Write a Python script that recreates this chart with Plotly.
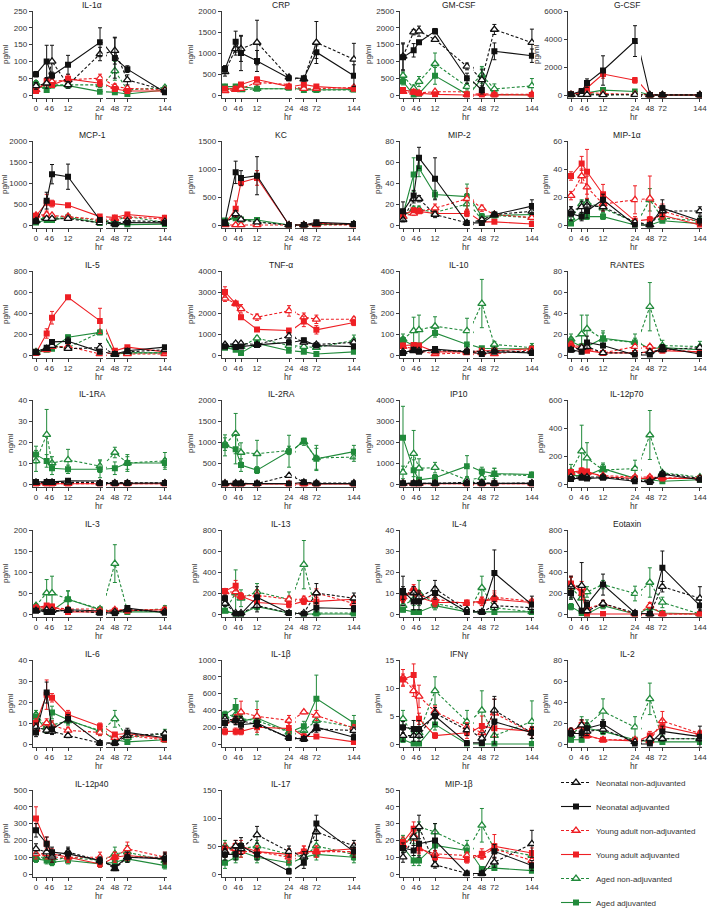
import plotly.graph_objects as go

W, H = 709, 912
HOURS = [0, 4, 6, 12, 24, 48, 72, 144]
LEFT_TICKS = [0, 4, 6, 12, 24]
RIGHT_TICKS = [48, 72, 144]

SERIES_NAMES = ["Neonatal non-adjuvanted", "Neonatal adjuvanted",
                "Young adult non-adjuvanted", "Young adult adjuvanted",
                "Aged non-adjuvanted", "Aged adjuvanted"]

# each *_MEAN / *_SEM list: rows in SERIES_NAMES order, columns in HOURS order
IL1A_MEAN = [[27, 35, 100, 30, 122, 132, 45, 14], [62, 100, 58, 90, 157, 110, 77, 8],
             [15, 35, 40, 45, 50, 25, 20, 15], [12, 42, 30, 48, 35, 18, 12, 12],
             [35, 25, 30, 30, 30, 72, 15, 22], [32, 15, 28, 28, 10, 8, 3, 15]]
IL1A_SEM = [[10, 15, 48, 10, 20, 40, 15, 5], [8, 48, 10, 28, 43, 60, 10, 5],
            [5, 8, 10, 10, 12, 8, 6, 5], [5, 8, 6, 12, 10, 6, 5, 4],
            [8, 8, 8, 8, 8, 28, 6, 6], [8, 5, 6, 6, 4, 4, 2, 5]]

CRP_MEAN = [[550, 1100, 1100, 1250, 420, 380, 1250, 850], [620, 1270, 1000, 810, 400, 400, 1020, 460],
            [100, 130, 150, 300, 200, 150, 150, 180], [150, 150, 250, 370, 200, 250, 200, 150],
            [170, 130, 120, 150, 170, 150, 120, 120], [200, 200, 200, 150, 170, 120, 120, 130]]
CRP_SEM = [[100, 150, 300, 530, 50, 50, 500, 380], [80, 250, 420, 250, 60, 40, 150, 260],
           [30, 30, 40, 60, 40, 40, 40, 40], [40, 40, 40, 60, 50, 50, 40, 40],
           [30, 30, 30, 30, 30, 30, 30, 30], [40, 40, 40, 30, 30, 30, 30, 30]]

GMCSF_MEAN = [[1150, 1870, 1900, 1650, 850, 450, 1950, 1560], [1120, 1330, 1570, 1900, 500, 150, 1300, 1170],
              [100, 80, 60, 100, 10, 40, 20, 20], [150, 100, 50, 20, 0, 10, 0, 0],
              [580, 200, 400, 930, 250, 600, 180, 270], [400, 0, 40, 570, 20, 500, 20, 0]]
GMCSF_SEM = [[400, 80, 150, 50, 100, 300, 150, 400], [400, 200, 30, 80, 150, 120, 250, 200],
             [30, 30, 20, 30, 10, 20, 10, 10], [50, 30, 20, 10, 5, 5, 5, 5],
             [100, 100, 150, 320, 100, 250, 150, 220], [100, 5, 20, 250, 10, 300, 10, 5]]

GCSF_MEAN = [[20, 30, 30, 10, 20, 10, 10, 10], [50, 280, 850, 1750, 3850, 0, 0, 0],
             [30, 100, 200, 100, 50, 0, 0, 0], [50, 200, 500, 1500, 1050, 0, 0, 0],
             [20, 100, 100, 20, 20, 0, 0, 0], [30, 150, 150, 350, 250, 0, 0, 0]]
GCSF_SEM = [[10, 20, 20, 10, 10, 5, 5, 5], [30, 100, 300, 1050, 1100, 5, 5, 5],
            [20, 50, 80, 50, 30, 5, 5, 5], [20, 100, 150, 300, 200, 5, 5, 5],
            [10, 50, 50, 20, 20, 5, 5, 5], [20, 80, 80, 100, 80, 5, 5, 5]]

MCP1_MEAN = [[100, 150, 150, 150, 50, 30, 100, 80], [90, 580, 1210, 1150, 120, 10, 60, 50],
             [230, 250, 230, 200, 130, 150, 200, 140], [220, 530, 510, 470, 200, 180, 250, 170],
             [100, 200, 180, 200, 100, 100, 200, 60], [60, 120, 120, 180, 50, 20, 10, 20]]
MCP1_SEM = [[30, 40, 40, 40, 20, 10, 30, 20], [50, 200, 230, 300, 50, 10, 30, 20],
            [40, 40, 40, 40, 30, 30, 40, 30], [40, 200, 80, 40, 40, 40, 50, 40],
            [30, 50, 40, 40, 30, 30, 50, 20], [20, 30, 30, 40, 20, 10, 5, 10]]

KC_MEAN = [[20, 200, 100, 50, 0, 0, 20, 10], [50, 940, 840, 880, 0, 0, 50, 20],
           [0, 0, 0, 0, 0, 0, 0, 0], [20, 290, 760, 840, 0, 0, 30, 10],
           [50, 150, 90, 60, 0, 0, 10, 10], [80, 120, 100, 90, 0, 0, 10, 10]]
KC_SEM = [[10, 60, 30, 20, 2, 2, 10, 5], [30, 200, 130, 340, 10, 10, 20, 20],
          [2, 2, 2, 2, 2, 2, 2, 2], [10, 140, 60, 130, 5, 5, 10, 10],
          [20, 40, 30, 20, 2, 2, 5, 5], [30, 30, 30, 30, 2, 2, 5, 5]]

MIP2_MEAN = [[5, 25, 25, 10, 2, 5, 10, 13], [13, 28, 64, 44, 2, 2, 10, 18],
             [8, 11, 13, 16, 25, 16, 10, 7], [10, 14, 13, 11, 11, 3, 3, 1],
             [8, 15, 15, 12, 20, 5, 9, 7], [10, 48, 54, 29, 27, 8, 9, 10]]
MIP2_SEM = [[2, 4, 3, 3, 1, 2, 2, 3], [9, 5, 10, 20, 2, 2, 2, 6],
            [2, 2, 2, 4, 10, 3, 2, 2], [3, 2, 2, 2, 3, 1, 1, 1],
            [2, 3, 3, 3, 10, 2, 2, 2], [5, 16, 8, 4, 12, 3, 2, 3]]

MIP1A_MEAN = [[10, 13, 14, 13, 2, 0, 10, 10], [8, 6, 10, 18, 0, 0, 12, 3],
              [21, 35, 27, 15, 18, 19, 10, 2], [35, 44, 38, 22, 3, 4, 7, 0],
              [5, 15, 16, 12, 2, 18, 5, 3], [1, 6, 6, 6, 0, 0, 3, 1]]
MIP1A_SEM = [[3, 4, 4, 3, 1, 0.5, 4, 3], [5, 3, 5, 4, 1, 1, 6, 3],
             [3, 5, 8, 5, 10, 16, 5, 2], [3, 5, 16, 7, 3, 2, 3, 1],
             [2, 3, 3, 3, 1, 8, 2, 2], [1, 2, 2, 2, 0.5, 0.5, 1, 1]]

IL5_MEAN = [[20, 60, 90, 60, 70, 5, 30, 50], [30, 70, 125, 130, 30, 10, 40, 75],
            [20, 50, 80, 80, 10, 20, 10, 10], [20, 205, 355, 550, 325, 40, 75, 30],
            [30, 60, 80, 70, 215, 10, 20, 20], [20, 50, 60, 170, 215, 10, 20, 20]]
IL5_SEM = [[10, 15, 20, 15, 40, 5, 10, 10], [10, 20, 20, 40, 20, 5, 10, 10],
           [10, 10, 15, 15, 5, 5, 5, 5], [10, 45, 60, 10, 120, 15, 15, 10],
           [10, 15, 15, 15, 20, 5, 5, 5], [10, 10, 15, 20, 20, 5, 5, 5]]

TNF_MEAN = [[500, 550, 550, 500, 900, 600, 500, 600], [400, 380, 400, 480, 600, 700, 450, 400],
            [2700, 2450, 2200, 1800, 2100, 1800, 1700, 1700], [3000, 2450, 1800, 1220, 1170, 1600, 1200, 1550],
            [450, 400, 400, 800, 450, 400, 350, 700], [350, 250, 100, 550, 200, 150, 50, 150]]
TNF_SEM = [[80, 80, 80, 80, 150, 100, 80, 100], [80, 80, 80, 100, 80, 100, 80, 80],
           [150, 80, 200, 150, 250, 200, 200, 100], [250, 80, 100, 60, 80, 250, 200, 150],
           [80, 80, 80, 100, 80, 80, 80, 250], [80, 80, 60, 100, 80, 60, 40, 60]]

IL10_MEAN = [[15, 20, 20, 20, 20, 15, 20, 15], [10, 25, 15, 28, 15, 5, 15, 10],
             [40, 30, 20, 5, 10, 10, 5, 25], [45, 48, 45, 15, 15, 20, 20, 30],
             [75, 115, 120, 137, 115, 245, 50, 35], [70, 45, 45, 105, 50, 32, 30, 30]]
IL10_SEM = [[5, 5, 5, 5, 5, 5, 5, 5], [5, 10, 5, 8, 5, 3, 5, 5],
            [10, 10, 8, 3, 5, 5, 3, 8], [10, 10, 10, 5, 5, 5, 5, 8],
            [25, 65, 70, 45, 60, 115, 15, 20], [15, 10, 10, 20, 10, 5, 5, 15]]

RANTES_MEAN = [[5, 7, 8, 2, 2, 3, 5, 7], [5, 3, 12, 9, 0, 0, 7, 1],
               [10, 7, 6, 2, 8, 8, 5, 3], [9, 5, 4, 2, 2, 3, 4, 3],
               [15, 20, 25, 15, 12, 46, 9, 8], [13, 8, 8, 16, 12, 6, 7, 5]]
RANTES_SEM = [[2, 2, 2, 1, 1, 1, 2, 2], [2, 2, 6, 2, 0.5, 0.5, 3, 1],
              [3, 2, 2, 1, 2, 2, 2, 1], [2, 2, 1, 1, 1, 1, 1, 1],
              [5, 18, 13, 8, 8, 23, 5, 5], [4, 3, 3, 5, 4, 2, 2, 2]]

IL1RA_MEAN = [[0.8, 0.8, 0.8, 0.8, 0.5, 0.5, 0.5, 0.5], [1, 1, 1, 1.5, 0.3, 0.3, 0.5, 0.5],
              [0.2, 0.2, 0.2, 0.2, 0.2, 0.2, 0.2, 0.2], [0.1, 0.1, 0.1, 0.1, 0.1, 0.1, 0.1, 0.1],
              [11, 23.5, 10, 11.5, 8.5, 15, 10, 11], [14, 11, 7.5, 7, 7, 7.5, 10, 10]]
IL1RA_SEM = [[0.3, 0.3, 0.3, 0.3, 0.3, 0.3, 0.3, 0.3], [0.3, 0.3, 0.3, 0.5, 0.2, 0.2, 0.2, 0.2],
             [0.1, 0.1, 0.1, 0.1, 0.1, 0.1, 0.1, 0.1], [0.1, 0.1, 0.1, 0.1, 0.1, 0.1, 0.1, 0.1],
             [5, 12, 3, 5, 3, 2.5, 4, 4], [4, 3, 3, 2, 4, 3, 3, 2]]

IL2RA_MEAN = [[20, 20, 20, 10, 200, 40, 20, 20], [10, 10, 10, 10, 10, 40, 10, 10],
              [5, 5, 5, 5, 5, 5, 5, 5], [0, 0, 0, 0, 0, 0, 0, 0],
              [950, 1200, 750, 720, 800, 1000, 620, 640], [920, 830, 450, 330, 780, 1030, 600, 770]]
IL2RA_SEM = [[10, 10, 10, 10, 40, 10, 10, 10], [5, 5, 5, 5, 5, 10, 5, 5],
             [3, 3, 3, 3, 3, 3, 3, 3], [2, 2, 2, 2, 2, 2, 2, 2],
             [150, 480, 230, 320, 100, 80, 300, 100], [250, 350, 150, 80, 380, 60, 250, 150]]

IP10_MEAN = [[30, 30, 30, 30, 80, 60, 30, 50], [30, 30, 30, 30, 30, 30, 30, 30],
             [20, 20, 20, 20, 20, 20, 20, 20], [10, 10, 10, 10, 10, 10, 10, 10],
             [550, 1450, 750, 780, 200, 300, 450, 400], [2200, 650, 200, 300, 850, 600, 500, 450]]
IP10_SEM = [[10, 10, 10, 10, 20, 20, 10, 10], [10, 10, 10, 10, 10, 10, 10, 10],
            [10, 10, 10, 10, 10, 10, 10, 10], [5, 5, 5, 5, 5, 5, 5, 5],
            [300, 1100, 450, 250, 100, 150, 300, 100], [1500, 500, 100, 150, 500, 200, 250, 100]]

IL12P70_MEAN = [[50, 50, 50, 50, 30, 20, 75, 40], [35, 45, 40, 45, 20, 15, 70, 30],
                [80, 90, 80, 60, 50, 50, 45, 40], [85, 95, 90, 50, 40, 40, 40, 40],
                [90, 235, 185, 100, 110, 350, 80, 50], [60, 60, 60, 110, 40, 30, 20, 30]]
IL12P70_SEM = [[10, 10, 10, 10, 8, 5, 10, 8], [10, 10, 10, 10, 5, 5, 10, 8],
               [15, 15, 15, 10, 10, 10, 10, 8], [15, 20, 15, 10, 8, 8, 8, 8],
               [50, 185, 110, 40, 60, 175, 10, 10], [20, 20, 20, 40, 10, 10, 5, 5]]

IL3_MEAN = [[8, 10, 8, 8, 3, 5, 10, 5], [8, 5, 5, 10, 3, 2, 14, 3],
            [15, 15, 15, 12, 8, 10, 10, 10], [15, 20, 18, 5, 5, 8, 8, 10],
            [20, 50, 50, 35, 12, 120, 8, 12], [15, 8, 8, 35, 10, 5, 5, 5]]
IL3_SEM = [[3, 3, 3, 3, 1, 2, 3, 2], [3, 2, 2, 4, 1, 1, 4, 1],
           [4, 4, 4, 3, 2, 3, 3, 3], [4, 5, 5, 2, 2, 3, 3, 3],
           [5, 32, 40, 20, 5, 45, 5, 8], [4, 3, 3, 20, 3, 2, 2, 2]]

IL13_MEAN = [[100, 10, 10, 80, 10, 10, 200, 150], [150, 0, 0, 160, 10, 0, 60, 50],
             [210, 210, 170, 180, 140, 140, 200, 100], [220, 270, 170, 110, 90, 120, 120, 140],
             [30, 200, 150, 210, 140, 470, 10, 10], [30, 0, 0, 70, 10, 0, 0, 0]]
IL13_SEM = [[30, 5, 5, 60, 5, 5, 90, 50], [30, 5, 5, 100, 5, 5, 40, 30],
            [30, 40, 30, 50, 30, 30, 40, 30], [20, 50, 30, 40, 30, 30, 40, 30],
            [10, 220, 80, 80, 70, 230, 5, 5], [10, 5, 5, 30, 5, 5, 5, 5]]

IL4_MEAN = [[10, 10, 8, 12, 2, 1, 4, 3], [11, 6, 6, 10, 1, 1, 19.5, 4.5],
            [8, 12, 9, 7, 5, 6, 8, 6], [7.5, 11, 8, 5.5, 5.5, 6, 7, 5.5],
            [4, 7, 10, 5, 2, 12.5, 3, 1], [2, 1, 1, 4, 1, 1, 1, 1]]
IL4_SEM = [[3, 3, 3, 4, 1, 1, 2, 2], [7, 4, 4, 3, 1, 1, 11, 4],
           [2, 2, 2, 2, 1, 2, 3, 1], [2, 2, 2, 2, 1, 2, 3, 1],
           [2, 3, 6, 2, 1, 5.5, 2, 1], [1, 0.5, 0.5, 2, 0.5, 0.5, 0.5, 0.5]]

EOTAXIN_MEAN = [[260, 270, 30, 100, 10, 0, 260, 150], [200, 30, 90, 280, 10, 0, 440, 80],
                [280, 250, 50, 100, 0, 80, 0, 0], [290, 200, 0, 0, 0, 0, 0, 0],
                [250, 150, 210, 280, 195, 300, 110, 0], [70, 10, 0, 80, 0, 60, 10, 0]]
EOTAXIN_SEM = [[100, 220, 20, 30, 5, 5, 50, 110], [60, 20, 40, 100, 5, 5, 160, 50],
               [80, 60, 20, 30, 5, 30, 5, 5], [60, 60, 5, 5, 5, 5, 5, 5],
               [100, 100, 50, 40, 70, 140, 50, 5], [30, 5, 5, 30, 5, 30, 5, 5]]

IL6_MEAN = [[8, 6.5, 6, 4, 0.5, 0.5, 4, 5], [5.5, 24.5, 7, 12, 0.5, 0.3, 5.5, 3],
            [7, 10, 9, 6.5, 5.5, 3, 4, 2], [10, 23.5, 22, 14, 8.5, 4.5, 5, 2.5],
            [14, 8, 9, 11, 6.5, 12, 3, 5], [13, 6.5, 15, 11.5, 6, 2, 1, 2]]
IL6_SEM = [[2, 1.5, 1.5, 1, 0.5, 0.5, 1, 1], [2, 5, 2, 2, 0.5, 0.5, 2, 1],
           [2, 2, 2, 1.5, 1.5, 1, 1, 1], [2, 7, 2, 2, 1.5, 1, 1, 1],
           [2, 2, 2, 2, 2, 4, 1, 2], [2, 1, 3, 2, 2, 1, 1, 1]]

IL1B_MEAN = [[300, 280, 280, 230, 80, 60, 180, 160], [250, 280, 230, 250, 70, 60, 200, 80],
             [270, 300, 380, 330, 280, 380, 340, 190], [150, 150, 150, 200, 190, 90, 90, 25],
             [330, 350, 300, 280, 140, 160, 280, 200], [350, 440, 270, 310, 150, 210, 540, 250]]
IL1B_SEM = [[50, 50, 50, 40, 20, 20, 40, 40], [50, 50, 50, 50, 20, 20, 40, 30],
            [50, 50, 130, 80, 60, 20, 60, 40], [40, 40, 40, 60, 60, 30, 20, 20],
            [40, 50, 50, 50, 40, 40, 50, 40], [40, 100, 60, 200, 60, 60, 280, 90]]

IFNG_MEAN = [[1.5, 1.5, 1.5, 5.5, 2.5, 1, 6, 2], [3, 2.7, 2.7, 5, 0.2, 0.2, 4, 2],
             [11.8, 9.5, 8.5, 5.8, 3, 2, 5.5, 2], [11.5, 12.3, 4.5, 1.5, 2, 3.2, 2.8, 2.3],
             [4.5, 1.5, 2, 9.5, 4, 6, 1.5, 4], [0.8, 0, 0, 3.5, 0, 0, 0, 0]]
IFNG_SEM = [[1, 1, 1, 1, 1, 1, 2.5, 1], [1, 1.5, 1.5, 1.5, 0.3, 0.3, 4, 1],
            [1.5, 1, 2, 1, 0.8, 1, 2.5, 1], [1, 2, 1, 0.5, 1, 1.8, 1.5, 0.8],
            [1.5, 1, 1, 2.5, 2, 3.5, 1, 3.7], [0.5, 0.2, 0.2, 1, 0.2, 0.2, 0.2, 0.2]]

IL2_MEAN = [[12, 18, 12, 14, 2, 5, 5, 5], [10, 10, 15, 19, 0, 0, 12, 7],
            [12, 17, 8, 4, 4, 3, 22, 10], [12, 18, 8, 4, 3, 8, 17, 9],
            [8, 18, 18, 31, 16, 43, 5, 5], [4, 4, 15, 12, 4, 2, 2, 2]]
IL2_SEM = [[3, 5, 4, 4, 1, 2, 2, 2], [3, 4, 5, 4, 0.5, 0.5, 5, 10],
           [3, 5, 2, 1, 1, 2, 9, 3], [3, 5, 2, 1, 1, 4, 6, 3],
           [5, 8, 5, 12, 10, 15, 3, 3], [2, 2, 4, 3, 2, 1, 1, 1]]

IL12P40_MEAN = [[150, 130, 100, 130, 80, 30, 100, 100], [260, 180, 130, 120, 80, 40, 100, 90],
                [120, 120, 100, 100, 100, 100, 150, 100], [330, 180, 120, 100, 60, 100, 110, 90],
                [100, 100, 80, 100, 80, 120, 130, 80], [90, 80, 70, 80, 60, 70, 90, 50]]
IL12P40_SEM = [[30, 30, 30, 30, 20, 10, 30, 30], [40, 40, 30, 30, 20, 10, 30, 30],
               [30, 30, 30, 30, 30, 30, 40, 30], [70, 40, 30, 30, 20, 30, 30, 30],
               [30, 30, 30, 30, 30, 40, 40, 30], [20, 20, 20, 20, 20, 20, 20, 20]]

IL17_MEAN = [[40, 50, 45, 70, 40, 30, 75, 50], [35, 35, 50, 35, 5, 20, 90, 40],
             [40, 45, 40, 40, 30, 40, 40, 40], [45, 50, 50, 40, 35, 40, 40, 45],
             [50, 40, 45, 50, 35, 30, 50, 35], [20, 30, 40, 30, 20, 30, 35, 30]]
IL17_SEM = [[10, 10, 10, 15, 10, 10, 15, 10], [10, 10, 15, 10, 5, 10, 15, 10],
            [10, 10, 10, 10, 10, 10, 10, 10], [10, 10, 10, 10, 10, 10, 10, 10],
            [10, 10, 10, 10, 10, 10, 10, 10], [10, 10, 10, 10, 10, 10, 10, 10]]

MIP1B_MEAN = [[10, 22, 28, 5.5, 0.3, 0.3, 7, 18], [15.5, 14, 18, 20, 0.3, 0.3, 13.5, 5],
              [17, 23, 15, 12, 11, 11, 15, 8], [19, 27, 16, 10, 8.5, 12, 16.5, 12.5],
              [20, 21, 28, 25, 16, 29, 15, 11], [16, 8, 8, 17, 14, 3, 3.5, 2]]
MIP1B_SEM = [[3, 5, 7, 2, 0.5, 0.5, 3, 8], [3, 3, 8, 10, 0.5, 0.5, 4, 3],
             [3, 3, 3, 2, 2, 2, 3, 2], [3, 4, 3, 2, 2, 3, 7, 3],
             [3, 3, 3, 5, 4, 10, 3, 3], [3, 3, 3, 3, 3, 1, 1, 1]]

PANEL_TITLES = ["IL-1α", "CRP", "GM-CSF", "G-CSF", "MCP-1", "KC", "MIP-2", "MIP-1α",
                "IL-5", "TNF-α", "IL-10", "RANTES", "IL-1RA", "IL-2RA", "IP10", "IL-12p70",
                "IL-3", "IL-13", "IL-4", "Eotaxin", "IL-6", "IL-1β", "IFNγ", "IL-2",
                "IL-12p40", "IL-17", "MIP-1β"]
PANEL_UNITS = ["pg/ml", "ng/ml", "pg/ml", "pg/ml", "pg/ml", "pg/ml", "pg/ml", "pg/ml",
               "pg/ml", "pg/ml", "pg/ml", "pg/ml", "ng/ml", "pg/ml", "ng/ml", "pg/ml",
               "pg/ml", "pg/ml", "pg/ml", "pg/ml", "pg/ml", "pg/ml", "pg/ml", "pg/ml",
               "pg/ml", "pg/ml", "pg/ml"]
PANEL_YTICKS = [[0, 50, 100, 150, 200, 250], [0, 500, 1000, 1500, 2000],
                [0, 500, 1000, 1500, 2000, 2500], [0, 2000, 4000, 6000],
                [0, 500, 1000, 1500, 2000], [0, 500, 1000, 1500],
                [0, 20, 40, 60, 80], [0, 20, 40, 60],
                [0, 200, 400, 600, 800], [0, 1000, 2000, 3000, 4000],
                [0, 100, 200, 300, 400], [0, 20, 40, 60, 80],
                [0, 10, 20, 30, 40], [0, 500, 1000, 1500, 2000],
                [0, 1000, 2000, 3000, 4000], [0, 200, 400, 600],
                [0, 50, 100, 150, 200], [0, 200, 400, 600, 800],
                [0, 10, 20, 30, 40], [0, 200, 400, 600, 800],
                [0, 10, 20, 30, 40], [0, 200, 400, 600, 800, 1000],
                [0, 5, 10, 15], [0, 20, 40, 60, 80],
                [0, 100, 200, 300, 400, 500], [0, 50, 100, 150],
                [0, 10, 20, 30, 40, 50]]
PANEL_MEANS = [IL1A_MEAN, CRP_MEAN, GMCSF_MEAN, GCSF_MEAN, MCP1_MEAN, KC_MEAN, MIP2_MEAN, MIP1A_MEAN,
               IL5_MEAN, TNF_MEAN, IL10_MEAN, RANTES_MEAN, IL1RA_MEAN, IL2RA_MEAN, IP10_MEAN, IL12P70_MEAN,
               IL3_MEAN, IL13_MEAN, IL4_MEAN, EOTAXIN_MEAN, IL6_MEAN, IL1B_MEAN, IFNG_MEAN, IL2_MEAN,
               IL12P40_MEAN, IL17_MEAN, MIP1B_MEAN]
PANEL_SEMS = [IL1A_SEM, CRP_SEM, GMCSF_SEM, GCSF_SEM, MCP1_SEM, KC_SEM, MIP2_SEM, MIP1A_SEM,
              IL5_SEM, TNF_SEM, IL10_SEM, RANTES_SEM, IL1RA_SEM, IL2RA_SEM, IP10_SEM, IL12P70_SEM,
              IL3_SEM, IL13_SEM, IL4_SEM, EOTAXIN_SEM, IL6_SEM, IL1B_SEM, IFNG_SEM, IL2_SEM,
              IL12P40_SEM, IL17_SEM, MIP1B_SEM]

# ---------------- styling / layout ----------------
BLACK, RED, GREEN = "#111111", "#EE1F24", "#218A3B"
SERIES_COLORS = [BLACK, BLACK, RED, RED, GREEN, GREEN]
SERIES_OPEN = [True, False, True, False, True, False]
DRAW_ORDER = [4, 5, 2, 3, 0, 1]
FONT = "Arial, Liberation Sans, Helvetica, sans-serif"
AXC = "#3a3a3a"

COL_X0 = [36, 225, 403, 571]           # pixel of hour 0 in each column
ROW_TOP = [11, 141, 271, 400, 530, 660, 790]
PLOT_H = 84
PAD = 0.03


def fx(px):
    return px / W


def fy(py):
    return 1 - py / H


fig = go.Figure()
layout = {}
annotations = []

for i, title in enumerate(PANEL_TITLES):
    r, c = divmod(i, 4)
    x0 = COL_X0[c]
    top = ROW_TOP[r]
    zero = top + PLOT_H
    bottom = zero + PLOT_H * PAD
    yt = PANEL_YTICKS[i]
    ymax = yt[-1]
    xl, xr, yi = 2 * i + 1, 2 * i + 2, i + 1
    xl_id = "x" if xl == 1 else f"x{xl}"
    xr_id = f"x{xr}"
    y_id = "y" if yi == 1 else f"y{yi}"
    common_x = dict(showline=True, linecolor=AXC, linewidth=1.2, ticks="outside", ticklen=3,
                    tickwidth=1, tickcolor=AXC, showgrid=False, zeroline=False, fixedrange=True,
                    tickangle=0, ticklabeloverflow="allow",
                    tickfont=dict(size=8, color="#333333", family=FONT), anchor=y_id)
    layout["xaxis" if xl == 1 else f"xaxis{xl}"] = dict(
        common_x, domain=[fx(x0 - 3.2), fx(x0 + 66.7)], range=[-1.2, 25],
        tickvals=LEFT_TICKS, ticktext=[str(v) for v in LEFT_TICKS])
    layout[f"xaxis{xr}"] = dict(
        common_x, domain=[fx(x0 + 70), fx(x0 + 131)], range=[31, 148],
        tickvals=RIGHT_TICKS, ticktext=[str(v) for v in RIGHT_TICKS])
    layout["yaxis" if yi == 1 else f"yaxis{yi}"] = dict(
        domain=[fy(bottom), fy(top)], range=[-PAD * ymax, ymax], anchor=xl_id,
        showline=True, linecolor=AXC, linewidth=1.2, ticks="outside", ticklen=3,
        tickwidth=1, tickcolor=AXC, showgrid=False, zeroline=False, fixedrange=True,
        tickvals=yt, ticktext=[str(v) for v in yt],
        tickfont=dict(size=8, color="#333333", family=FONT),
        title=dict(text=PANEL_UNITS[i], font=dict(size=8, color="#333333", family=FONT), standoff=3))
    annotations.append(dict(text=title, x=fx(x0 + 56), y=fy(top - 6), xref="paper", yref="paper",
                            showarrow=False, xanchor="center", yanchor="middle",
                            font=dict(size=8.5, color="#222222", family=FONT)))
    annotations.append(dict(text="hr", x=fx(x0 + 63), y=fy(zero + 22), xref="paper", yref="paper",
                            showarrow=False, xanchor="center", yanchor="middle",
                            font=dict(size=8.5, color="#333333", family=FONT)))

    means = PANEL_MEANS[i]
    sems = PANEL_SEMS[i]
    for s in DRAW_ORDER:
        col = SERIES_COLORS[s]
        if SERIES_OPEN[s]:
            marker = dict(symbol="triangle-up", size=7, color="white", line=dict(color=col, width=1.3))
            dash = "3px,2px"
        else:
            marker = dict(symbol="square", size=6, color=col, line=dict(color=col, width=0))
            dash = "solid"
        for side, xid in ((0, xl_id), (1, xr_id)):
            fig.add_trace(go.Scatter(
                x=HOURS, y=means[s], xaxis=xid, yaxis=y_id, mode="lines+markers",
                line=dict(color=col, width=1.1, dash=dash), marker=marker,
                error_y=dict(type="data", array=sems[s], color=col, thickness=1, width=2),
                name=SERIES_NAMES[s], legendgroup=SERIES_NAMES[s], legendrank=s + 1,
                showlegend=(i == 0 and side == 0), hoverinfo="skip"))

layout.update(dict(
    width=W, height=H, margin=dict(l=0, r=0, t=0, b=0, autoexpand=False),
    paper_bgcolor="white", plot_bgcolor="white",
    font=dict(family=FONT, size=8, color="#333333"),
    annotations=annotations,
    legend=dict(x=fx(556), y=fy(768), xanchor="left", yanchor="top",
                font=dict(size=8, color="#333333", family=FONT),
                tracegroupgap=5, itemwidth=30, bgcolor="rgba(0,0,0,0)"),
))
fig.update_layout(**layout)
fig.write_html("out.html", config={"displayModeBar": False},
               post_script="document.body.style.margin='0px';")
